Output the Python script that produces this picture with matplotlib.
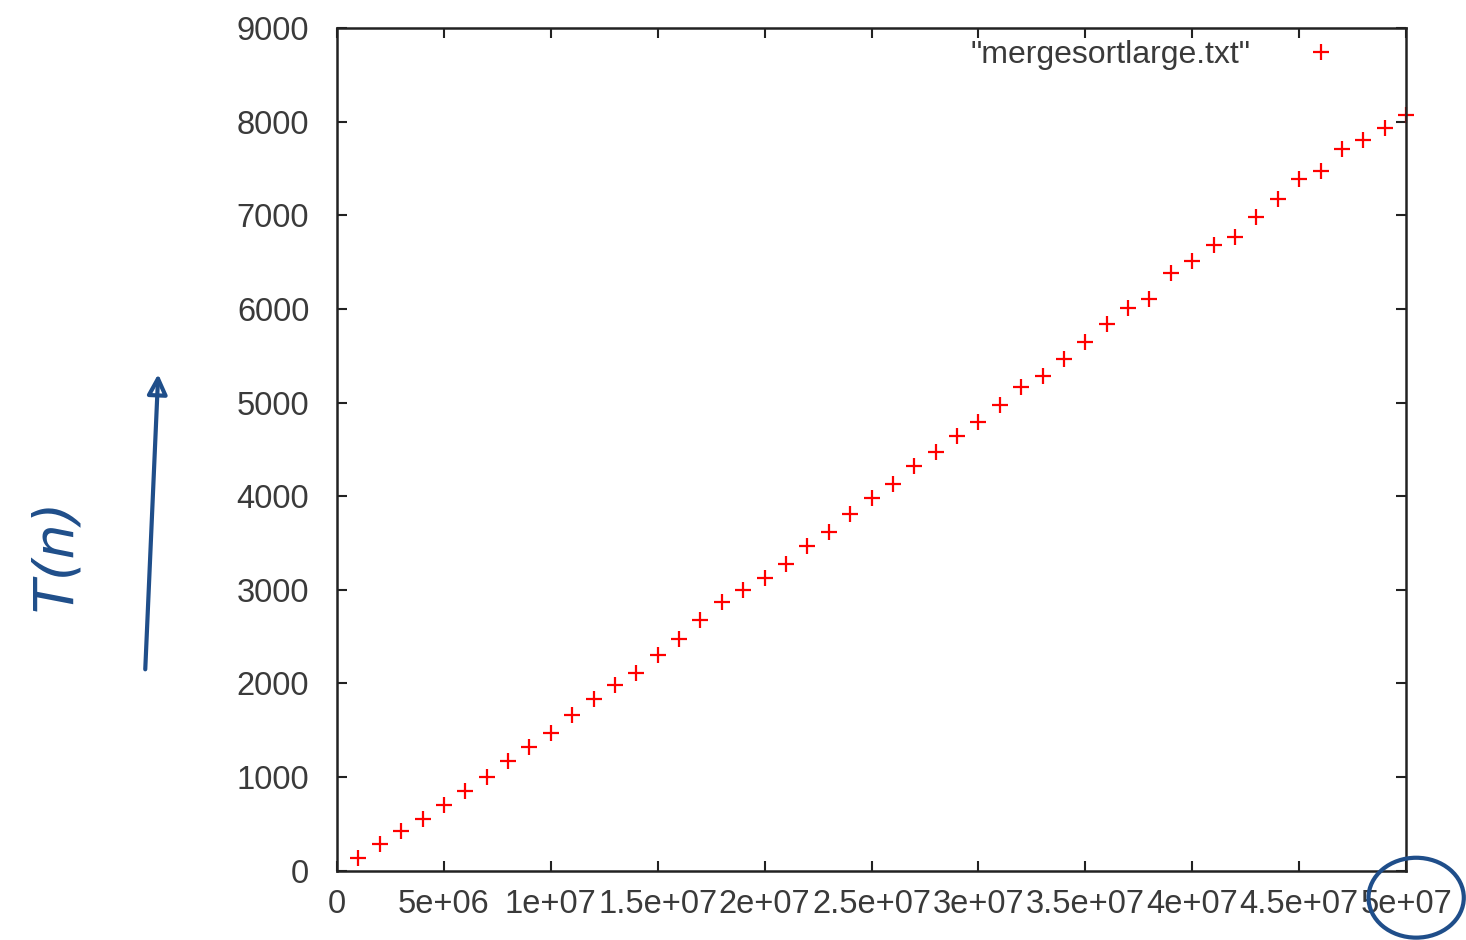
import matplotlib
matplotlib.use("Agg")
import matplotlib.pyplot as plt
from matplotlib.patches import Ellipse, FancyArrowPatch

# data
n_values = [i * 1000000 for i in range(1, 51)]
times = [132, 281, 426, 553, 706, 851, 1000, 1170, 1319, 1468,
         1660, 1830, 1979, 2111, 2302, 2470, 2681, 2872, 3000, 3128,
         3277, 3468, 3617, 3809, 3979, 4128, 4319, 4468, 4638, 4787,
         4979, 5170, 5285, 5468, 5646, 5834, 6007, 6106, 6383, 6515,
         6685, 6773, 6983, 7170, 7390, 7472, 7710, 7809, 7936, 8071]
x_ticks = [0, 5e6, 1e7, 1.5e7, 2e7, 2.5e7, 3e7, 3.5e7, 4e7, 4.5e7, 5e7]
x_labels = ["0", "5e+06", "1e+07", "1.5e+07", "2e+07", "2.5e+07",
            "3e+07", "3.5e+07", "4e+07", "4.5e+07", "5e+07"]
y_ticks = list(range(0, 9001, 1000))
series_name = '"mergesortlarge.txt"'

plt.rcParams['font.family'] = ['Liberation Sans', 'DejaVu Sans']
text_col = "#3a3a3a"
ink = "#1f4e8a"

fig = plt.figure(figsize=(14.66, 9.40), dpi=100)
ax = fig.add_axes([0.2299, 0.0737, 0.9591 - 0.2299, 0.9702 - 0.0737])

ax.plot(n_values, times, linestyle="none", marker="+", color="red",
        markersize=12, markeredgewidth=1.6, label=series_name, clip_on=False)

ax.set_xlim(0, 5e7)
ax.set_ylim(0, 9000)
ax.set_xticks(x_ticks)
ax.set_xticklabels(x_labels)
ax.set_yticks(y_ticks)
ax.tick_params(direction="in", length=7, width=1.5, top=True, right=True,
               labelsize=23.5, colors="#222222", labelcolor=text_col)
ax.tick_params(axis="x", pad=13)
ax.tick_params(axis="y", pad=20)
for s in ax.spines.values():
    s.set_linewidth(1.8)
    s.set_color("#222222")

leg = ax.legend(loc="upper right", bbox_to_anchor=(0.956, 1.012), frameon=False,
                markerfirst=False, fontsize=23, handlelength=1.0,
                handletextpad=1.7, borderaxespad=0.3)
for t in leg.get_texts():
    t.set_color(text_col)

# hand-drawn annotations
fig.text(0.038, 0.41, "T(n)", rotation=90, color=ink, fontsize=40,
         ha="center", va="center", family=["DejaVu Sans"], style="italic")
arr = FancyArrowPatch((0.099, 0.285), (0.108, 0.605), transform=fig.transFigure,
                      arrowstyle="-|>,head_length=12,head_width=6", color=ink,
                      lw=3, fill=False, mutation_scale=1)
fig.patches.append(arr)
ell = Ellipse((0.966, 0.045), 0.065, 0.085, transform=fig.transFigure,
              fill=False, edgecolor=ink, lw=3)
fig.patches.append(ell)

fig.savefig("out.png", dpi=100)
